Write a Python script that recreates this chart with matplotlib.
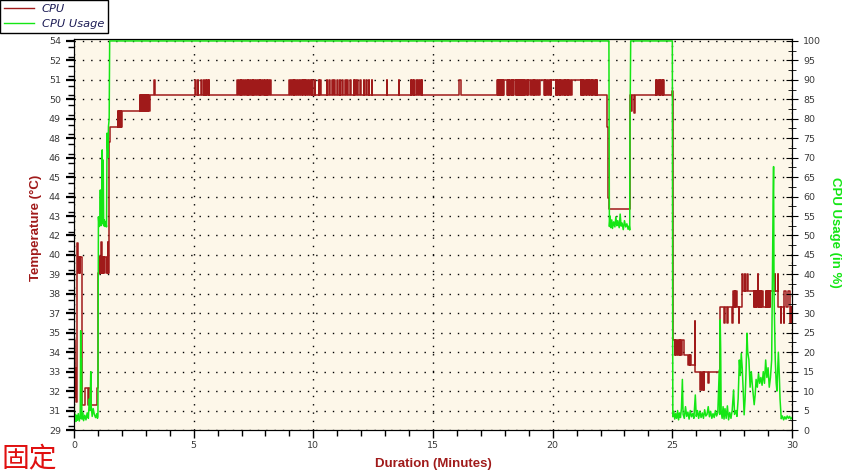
import matplotlib.pyplot as plt
import numpy as np
from matplotlib import font_manager
from matplotlib.lines import Line2D
from matplotlib.ticker import MultipleLocator

# temperature, base steps (minutes, degC)
temp_t = [0.00, 0.03, 0.06, 0.09, 0.13, 0.35, 1.02, 1.45, 1.50, 2.00, 3.19, 17.66, 21.87,
          22.25, 22.30, 22.33, 22.36, 23.22, 25.02, 25.04, 25.47, 25.78, 25.96, 27.00,
          27.52, 27.56, 27.60, 27.63, 27.66, 27.72, 27.90, 28.40, 29.10, 29.42, 29.68,
          29.75, 29.85, 29.90, 30.00]
temp_v = [34.3, 30.6, 32.5, 30.3, 39.6, 30.1, 38.6, 47.0, 48.0, 49.0, 50.0, 51.0, 50.0,
          48.0, 46.1, 43.4, 42.7, 50.0, 41.2, 34.3, 33.3, 32.7, 32.2, 36.4,
          37.4, 36.4, 37.4, 36.4, 37.4, 36.4, 37.4, 36.4, 37.4, 36.4, 37.4,
          36.4, 37.4, 36.4, 36.4]

# short excursions (start, length, value)
early_blips = [(0.13, 0.02, 40.5), (0.18, 0.03, 38.6), (0.23, 0.02, 38.6),
               (0.47, 0.12, 31.2), (0.63, 0.07, 31.2), (0.97, 0.05, 31.2),
               (1.05, 0.03, 39.6), (1.10, 0.02, 39.6), (1.13, 0.02, 40.6), (1.17, 0.03, 39.6),
               (1.22, 0.02, 39.6), (1.27, 0.06, 39.6), (1.36, 0.05, 39.6), (1.42, 0.02, 40.6),
               (1.82, 0.02, 49.0), (1.86, 0.03, 49.0), (1.91, 0.02, 49.0), (1.95, 0.03, 49.0),
               (2.74, 0.03, 50.0), (2.79, 0.02, 50.0), (2.83, 0.04, 50.0), (2.90, 0.02, 50.0),
               (2.95, 0.02, 50.0), (3.00, 0.03, 50.0), (3.06, 0.02, 50.0), (3.10, 0.05, 50.0)]
late_blips = [(23.28, 0.02, 49.0), (23.41, 0.04, 48.9), (25.00, 0.02, 50.3),
              (25.10, 0.03, 33.3), (25.16, 0.02, 33.3), (25.22, 0.04, 33.3), (25.30, 0.02, 33.3),
              (25.36, 0.03, 33.3), (25.66, 0.03, 32.7), (25.72, 0.02, 32.7), (25.95, 0.01, 35.5),
              (26.15, 0.03, 31.1), (26.22, 0.05, 31.1), (26.32, 0.02, 31.1), (26.50, 0.04, 31.5),
              (27.16, 0.02, 35.4), (27.29, 0.02, 35.4), (27.50, 0.02, 35.4), (27.78, 0.02, 35.4),
              (27.92, 0.02, 38.5), (28.02, 0.02, 38.5), (28.13, 0.03, 38.5),
              (28.42, 0.02, 37.4), (28.46, 0.02, 37.4), (28.50, 0.03, 37.4), (28.56, 0.02, 38.5),
              (28.60, 0.02, 37.4), (28.64, 0.03, 37.4), (28.70, 0.02, 37.4), (28.74, 0.03, 37.4),
              (28.90, 0.02, 37.4), (28.94, 0.03, 37.4), (28.99, 0.02, 37.4), (29.03, 0.03, 37.4),
              (29.07, 0.02, 37.4), (29.28, 0.02, 38.5), (29.40, 0.02, 38.5), (29.52, 0.02, 35.4),
              (29.66, 0.02, 35.4), (29.93, 0.02, 35.4), (29.96, 0.02, 35.4)]
# jumps 50 -> 51 (start, length)
spikes_51 = [(3.36, 0.01),
             (5.06, 0.05), (5.18, 0.02), (5.29, 0.05), (5.42, 0.02), (5.50, 0.03), (5.56, 0.03), (5.62, 0.04),
             (6.81, 0.04), (6.88, 0.05), (6.96, 0.03), (7.02, 0.06), (7.11, 0.03), (7.17, 0.04),
             (7.26, 0.02), (7.31, 0.05), (7.40, 0.03), (7.46, 0.02), (7.52, 0.06), (7.62, 0.03),
             (7.68, 0.04), (7.76, 0.02), (7.80, 0.05), (7.90, 0.02), (7.96, 0.04), (8.05, 0.02),
             (8.12, 0.02), (8.20, 0.03),
             (8.97, 0.06), (9.06, 0.04), (9.13, 0.05), (9.21, 0.03), (9.27, 0.06), (9.36, 0.04),
             (9.43, 0.05), (9.51, 0.04), (9.58, 0.06), (9.67, 0.04), (9.74, 0.05), (9.82, 0.04),
             (9.89, 0.05), (9.96, 0.04),
             (10.05, 0.02), (10.22, 0.02), (10.29, 0.03), (10.57, 0.02), (10.67, 0.02), (10.78, 0.03),
             (10.88, 0.02), (10.99, 0.02), (11.10, 0.03), (11.20, 0.02), (11.34, 0.02), (11.41, 0.03),
             (11.55, 0.02), (11.69, 0.02), (11.76, 0.02), (11.83, 0.03), (11.97, 0.02), (12.10, 0.02),
             (12.22, 0.03), (12.31, 0.02), (12.45, 0.02),
             (13.08, 0.01), (13.57, 0.01),
             (14.06, 0.02), (14.12, 0.03), (14.20, 0.02), (14.30, 0.04), (14.38, 0.02), (14.44, 0.05),
             (14.52, 0.03), (16.07, 0.10),
             (24.31, 0.02), (24.36, 0.03), (24.45, 0.02), (24.50, 0.03), (24.58, 0.02), (24.62, 0.03)]
# drops 51 -> 50 (start, length)
dips_50 = [(17.66, 0.03), (17.71, 0.02), (17.75, 0.04), (17.81, 0.02), (17.85, 0.03), (17.90, 0.02),
           (17.94, 0.03), (18.10, 0.03), (18.15, 0.02), (18.19, 0.04), (18.26, 0.02), (18.30, 0.03),
           (18.35, 0.03), (18.45, 0.02), (18.50, 0.03), (18.56, 0.02), (18.60, 0.04), (18.67, 0.02),
           (18.72, 0.03), (18.78, 0.02), (18.82, 0.04), (18.88, 0.03), (18.97, 0.02), (19.05, 0.03),
           (19.14, 0.02), (19.20, 0.02), (19.28, 0.03), (19.36, 0.02), (19.44, 0.03), (19.64, 0.02),
           (19.70, 0.03), (19.78, 0.02), (19.86, 0.02), (19.92, 0.03), (20.12, 0.03), (20.18, 0.02),
           (20.23, 0.04), (20.30, 0.02), (20.36, 0.03), (20.42, 0.04), (20.50, 0.02), (20.55, 0.03),
           (20.62, 0.04), (20.70, 0.02), (20.76, 0.04), (21.17, 0.03), (21.23, 0.02), (21.28, 0.04),
           (21.36, 0.02), (21.42, 0.03), (21.50, 0.02), (21.56, 0.04), (21.64, 0.02), (21.70, 0.03),
           (21.78, 0.02), (21.82, 0.04)]

# CPU usage (minutes, %)
cpu_t = [0.00, 0.02, 0.05, 0.08, 0.11, 0.14, 0.18, 0.22, 0.26, 0.28, 0.30, 0.31, 0.33, 0.36, 0.40,
         0.45, 0.50, 0.55, 0.60, 0.64, 0.67, 0.70, 0.72, 0.76, 0.80, 0.85, 0.90, 0.95, 0.98, 1.00,
         1.02, 1.05, 1.08, 1.10, 1.12, 1.15, 1.18, 1.20, 1.22, 1.24, 1.27, 1.30, 1.33, 1.36, 1.38,
         1.42, 1.44, 1.47, 1.49, 22.35,
         22.37, 22.40, 22.43, 22.47, 22.50, 22.55, 22.60, 22.64, 22.68, 22.72, 22.78, 22.82, 22.86,
         22.90, 22.95, 23.00, 23.05, 23.10, 23.15, 23.20, 23.22, 23.23, 23.26, 25.00,
         25.02, 25.06, 25.10, 25.14, 25.18, 25.22, 25.26, 25.30, 25.34, 25.38, 25.42, 25.45, 25.50,
         25.55, 25.60, 25.65, 25.70, 25.75, 25.80, 25.85, 25.90, 25.96, 26.00, 26.05, 26.10, 26.15,
         26.20, 26.25, 26.30, 26.35, 26.40, 26.45, 26.50, 26.55, 26.60, 26.65, 26.70, 26.75, 26.80,
         26.85, 26.90, 26.96, 26.98, 27.00, 27.02, 27.04, 27.08, 27.12, 27.16, 27.20, 27.25, 27.30,
         27.35, 27.40, 27.45, 27.50, 27.56, 27.60, 27.66, 27.70, 27.75, 27.80, 27.84, 27.88, 27.92,
         27.96, 28.00, 28.04, 28.08, 28.12, 28.15, 28.20, 28.25, 28.30, 28.35, 28.42, 28.46, 28.50,
         28.55, 28.60, 28.65, 28.70, 28.75, 28.80, 28.85, 28.90, 28.95, 29.00, 29.05, 29.10, 29.15,
         29.19, 29.21, 29.23, 29.25, 29.28, 29.30, 29.34, 29.37, 29.40, 29.43, 29.47, 29.50, 29.55,
         29.60, 29.65, 29.70, 29.75, 29.80, 29.85, 29.90, 29.95, 30.00]
cpu_v = [12.0, 2.6, 4.0, 2.2, 3.8, 2.5, 4.2, 2.3, 3.5, 25.5, 3.0, 18.5, 2.8, 4.5, 2.4,
         3.8, 2.6, 4.4, 3.0, 8.0, 5.0, 15.0, 6.0, 3.5, 5.5, 4.0, 3.2, 4.2, 3.0, 3.5,
         54.8, 52.3, 53.5, 61.7, 52.5, 54.0, 72.0, 53.0, 69.4, 52.5, 54.0, 52.3, 53.5, 52.2, 76.3,
         70.0, 78.0, 80.0, 100.0, 100.0,
         52.3, 55.0, 52.0, 54.0, 51.8, 53.5, 52.2, 54.8, 52.5, 53.8, 52.0, 55.5, 52.4,
         53.2, 51.5, 53.8, 52.2, 53.0, 51.6, 52.5, 51.4, 76.3, 100.0, 100.0,
         3.4, 4.8, 2.8, 4.2, 3.0, 5.0, 2.6, 4.4, 3.2, 5.5, 13.0, 4.0, 3.0,
         6.0, 3.5, 4.6, 2.8, 5.0, 3.4, 4.2, 3.0, 9.0, 3.5, 5.0, 3.0, 4.8,
         3.2, 4.4, 3.0, 5.2, 3.6, 4.0, 6.0, 3.4, 4.8, 3.0, 4.2, 3.2, 5.0,
         3.6, 4.5, 15.4, 4.0, 28.3, 20.6, 5.0, 3.0, 6.0, 2.8, 5.5, 3.0, 6.2,
         2.6, 4.5, 3.0, 5.0, 10.3, 4.0, 5.0, 3.5, 8.0, 18.0, 14.0, 19.7, 16.0,
         10.3, 3.9, 8.0, 15.0, 24.9, 20.0, 18.0, 11.0, 15.0, 11.0, 6.5, 9.0, 13.0,
         11.0, 14.5, 12.0, 13.5, 11.5, 15.0, 12.0, 18.0, 13.5, 16.0, 11.0, 13.5, 18.0,
         45.0, 58.0, 67.7, 35.0, 25.0, 18.0, 12.0, 10.0, 15.0, 20.0, 14.0, 8.0, 2.9,
         3.6, 2.6, 3.4, 2.8, 3.6, 3.0, 3.5, 2.8, 3.2]

temp_labels = ["29", "31", "32", "33", "34", "35", "37", "38", "39", "40", "42",
               "43", "44", "45", "46", "48", "49", "50", "51", "52", "54"]


def merge(base_t, base_v, blips):
    ts, vs = list(base_t), list(base_v)
    for s, d, v in blips:
        i = np.searchsorted(base_t, s + d, side='right') - 1
        ts += [s, s + d]
        vs += [v, base_v[i]]
    order = np.argsort(ts, kind='stable')
    return np.array(ts)[order], np.array(vs)[order]


blips = early_blips + late_blips
blips += [(s, d, 51.0) for s, d in spikes_51]
blips += [(s, d, 50.0) for s, d in dips_50]
tt, tv = merge(temp_t, temp_v, blips)

red = '#A01A1A'
green = '#14E614'
cream = '#FDF7E9'
tick_col = '#3A3A3A'

# narrow bold font for the axis titles if there is one
try:
    narrow = font_manager.findfont('Liberation Sans Narrow:bold', fallback_to_default=False)
    label_font = dict(family='Liberation Sans Narrow', fontsize=11)
except Exception:
    label_font = dict(family='Liberation Sans', fontsize=9.5)

fig = plt.figure(figsize=(8.44, 4.73), dpi=100)
ax = fig.add_axes([74 / 844, 1 - 430 / 473, (792 - 74) / 844, (430 - 39) / 473])
ax2 = ax.twinx()

top = 100.5
ax2.set_ylim(0, top)
ax.set_ylim(28.5, 28.5 + 25 * top / 100)
ax.set_xlim(0, 30)
ax.set_facecolor(cream)

ax.plot(tt, tv, drawstyle='steps-post', color=red, lw=1.1)
ax2.plot(cpu_t, cpu_v, color=green, lw=1.1)

ax.set_yticks(28.5 + 1.25 * np.arange(21))
ax.set_yticklabels(temp_labels)
ax.yaxis.set_minor_locator(MultipleLocator(0.625))
ax2.set_yticks(np.arange(0, 101, 5))
ax2.yaxis.set_minor_locator(MultipleLocator(2.5))
ax.set_xticks(np.arange(0, 31, 5))
ax.xaxis.set_minor_locator(MultipleLocator(1))

ax.tick_params(axis='both', which='major', labelsize=6.8, labelcolor=tick_col, length=6, width=1)
ax.tick_params(axis='x', which='major', pad=2)
ax.tick_params(axis='both', which='minor', length=4, width=1)
ax.tick_params(axis='y', which='major', width=1.6)
ax2.tick_params(axis='y', which='major', direction='inout', length=8, labelsize=6.8,
                labelcolor=tick_col, pad=4)
ax2.tick_params(axis='y', which='minor', direction='inout', length=6)

ax.grid(True, which='major', color='black', linestyle=(0, (1, 5)), linewidth=1)
ax.set_axisbelow(True)

fig.text(36 / 844, 1 - 228 / 473, 'Temperature (°C)', color=red, fontweight='bold',
         rotation=90, ha='center', va='center', **label_font)
fig.text(835 / 844, 1 - 232 / 473, 'CPU Usage (in %)', color=green, fontweight='bold',
         rotation=270, ha='center', va='center', **label_font)
fig.text(433 / 844, 1 - 464 / 473, 'Duration (Minutes)', color=red, fontweight='bold',
         ha='center', va='center', **label_font)

handles = [Line2D([], [], color=red, lw=1), Line2D([], [], color=green, lw=1)]
leg = fig.legend(handles, ['CPU', 'CPU Usage'], loc='upper left', bbox_to_anchor=(0, 1),
                 borderaxespad=0, fancybox=False, edgecolor='black', framealpha=1,
                 prop={'style': 'italic', 'size': 8.2}, labelcolor='#1C1C55',
                 handlelength=2.6, handletextpad=0.7, borderpad=0.35, labelspacing=0.45)
leg.get_frame().set_linewidth(1)

fig.text(0.002, 0.0, '固定', color='#E01010', fontsize=20,
         family=['Noto Sans CJK SC', 'DejaVu Sans'], ha='left', va='bottom')

fig.savefig('out.png', dpi=100)
